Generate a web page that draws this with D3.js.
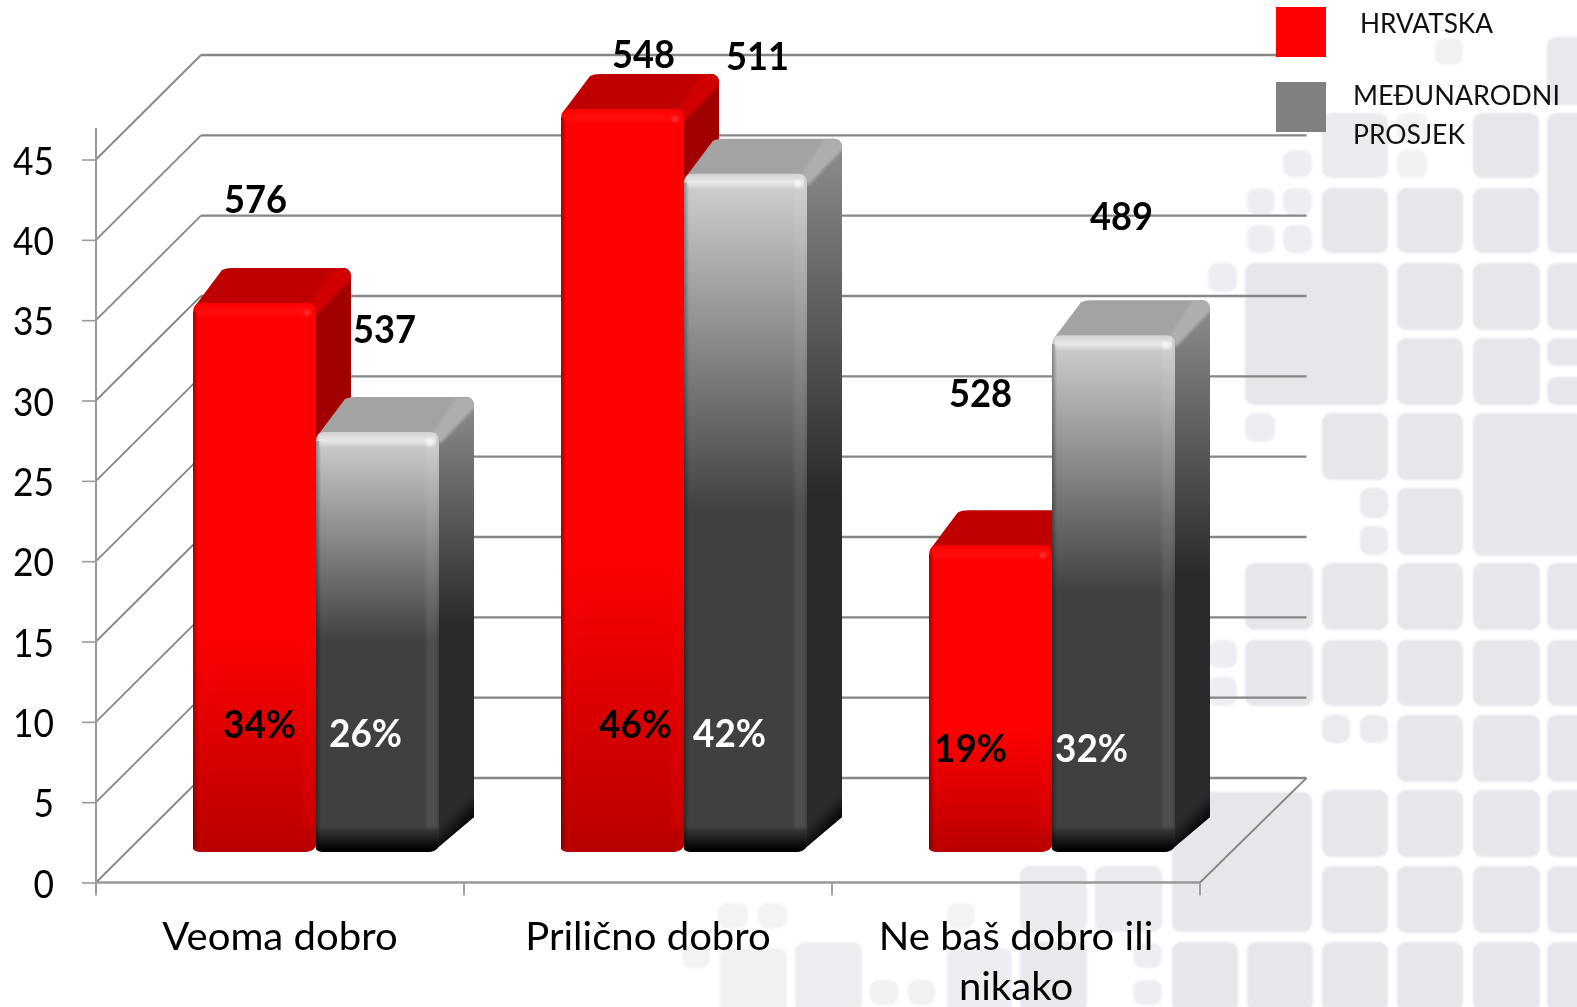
<!DOCTYPE html>
<html><head><meta charset="utf-8">
<script src="https://cdn.jsdelivr.net/npm/d3@7"></script>
<style>html,body{margin:0;padding:0;background:#fff;overflow:hidden}svg{display:block}text{font-family:Lato,"Open Sans",sans-serif}</style>
</head><body><svg id="c" width="1577" height="1007"></svg>
<script>
// ---- data ----
const categories = ["Veoma dobro", "Prilično dobro", "Ne baš dobro ili nikako"];
const seriesNames = ["HRVATSKA", "MEĐUNARODNI PROSJEK"];
const hrvatska = [34, 46, 19];
const prosjek = [26, 42, 32];
const scoresHrvatska = [576, 548, 528];
const scoresProsjek = [537, 511, 489];
const yTicks = [0, 5, 10, 15, 20, 25, 30, 35, 40, 45];

// ---- layout ----
const W = 1577, H = 1007;
const depth = 35, wallDx = 105, wallDy = 104.5;
const svg = d3.select("#c");
const defs = svg.append("defs");
const yFront = d3.scaleLinear().domain([0, 45]).range([882.5, 159.5]);
const yWall = v => yFront(v) - wallDy;
const yBar = d3.scaleLinear().domain([0, 45]).range([852, 852 - 45 * 16.15]);
const xBand = d3.scaleBand().domain(categories).range([96, 1200]);
const xInner = d3.scaleBand().domain([0, 1]).range([97, 343]);
const scoreOffset = [[[1, -90], [7, -89]], [[21, -41], [12, -104]], [[-10, -138], [8, -105]]];
const pctCenterY = [[724, 733], [724, 733], [748, 748]];
const pctDx = [[5, -12], [13, -16], [-20, -22]];

// background tiles: decorative page texture [x, y, w, h, opacity]
const tiles = [
 [1547,37,40,68,.9],[1435,38,28,27,.55],[1397,113,30,30,.55],[1397,150,30,28,.55],[1283,150,29,27,.7],
 [1322,113,66,65,.85],[1473,113,66,65,1],[1547,113,40,140,1],[1247,188,28,27,.7],[1283,188,29,27,.7],
 [1247,225,28,28,.7],[1283,225,29,28,.7],[1322,188,66,65,1],[1397,188,66,65,1],[1473,188,66,65,1],
 [1208,263,29,29,.7],[1245,263,143,142,1],[1397,263,66,67,1],[1473,263,67,67,1],[1547,263,40,67,1],
 [1397,338,66,67,1],[1473,338,67,67,1],[1547,338,40,28,1],[1547,377,40,28,1],
 [1245,413,30,29,.7],[1322,413,66,67,1],[1397,413,66,67,1],[1473,413,110,143,1],
 [1360,488,28,30,.85],[1360,526,28,29,.85],[1397,488,66,67,1],
 [1245,563,68,67,1],[1322,563,66,67,1],[1397,563,66,67,1],[1473,563,67,67,1],[1547,563,40,67,1],
 [1208,640,29,28,.7],[1208,677,29,29,.7],[1245,640,68,66,1],[1322,640,66,66,1],[1397,640,66,66,1],[1473,640,67,66,1],[1547,640,40,66,1],
 [1322,715,28,28,.85],[1360,715,28,28,.85],[1397,715,66,67,1],[1473,715,67,67,1],[1547,715,40,67,1],
 [1172,792,140,140,1],[1322,790,66,67,1],[1397,790,66,67,1],[1473,790,67,67,1],[1547,790,40,67,1],
 [1322,866,66,67,1],[1397,866,66,67,1],[1473,866,67,67,1],[1547,866,40,67,1],
 [1020,866,67,66,.85],[1095,866,67,66,.85],
 [718,903,30,25,.5],[758,903,29,25,.5],[947,903,28,25,.5],[682,943,28,25,.5],
 [720,948,67,70,.6],[795,942,67,70,.7],[870,980,28,25,.6],[908,980,27,25,.6],[947,948,65,70,.7],
 [1020,942,67,70,.9],[1133,943,29,25,.7],[1133,980,29,25,.7],
 [1172,942,66,70,1],[1247,942,66,70,1],[1322,942,66,70,1],[1397,942,66,70,1],[1473,942,67,70,1],[1547,942,40,70,1]
];
defs.append("filter").attr("id", "soft").append("feGaussianBlur").attr("stdDeviation", 1.3);
defs.append("filter").attr("id", "bev").attr("x", "-30%").attr("y", "-30%").attr("width", "160%").attr("height", "160%").append("feGaussianBlur").attr("stdDeviation", 1.6);
svg.append("g").attr("filter", "url(#soft)").selectAll("rect").data(tiles).join("rect")
  .attr("x", d => d[0]).attr("y", d => d[1]).attr("width", d => d[2]).attr("height", d => d[3])
  .attr("rx", 9).attr("fill", "#e6e7eb").attr("opacity", d => d[4]);

// ---- walls & floor ----
const gridCol = "#868686";
const wall = svg.append("g").attr("fill", "none").attr("stroke", gridCol);
wall.selectAll("line.g").data(yTicks).join("line").attr("class", "g")
  .attr("x1", 96 + wallDx).attr("x2", 1200 + wallDx + 1.5).attr("y1", yWall).attr("y2", yWall).attr("stroke-width", 2.4);
wall.selectAll("line.d").data(yTicks).join("line").attr("class", "d")
  .attr("x1", 96).attr("x2", 96 + wallDx).attr("y1", d => yFront(d)).attr("y2", yWall).attr("stroke-width", 1.8);
wall.append("line").attr("x1", 1200).attr("x2", 1200 + wallDx + 1.5).attr("y1", yFront(0)).attr("y2", yWall(0)).attr("stroke-width", 1.8);

// ---- axes ----
const yAxis = d3.axisLeft(yFront).tickValues(yTicks).tickSize(14).tickPadding(28);
const gy = svg.append("g").attr("transform", "translate(96,0)").call(yAxis);
gy.select(".domain").remove();
gy.append("line").attr("y1", 128).attr("y2", 895).attr("stroke", "#999").attr("stroke-width", 2);
gy.selectAll(".tick line").attr("stroke", "#999").attr("stroke-width", 1.6);
gy.selectAll("text").attr("font-size", 38).attr("fill", "#000").attr("dy", ".39em")
  .attr("textLength", d => d < 10 ? 20.5 : 41).attr("lengthAdjust", "spacingAndGlyphs");

const xAxis = d3.axisBottom(xBand).tickSize(0);
const gx = svg.append("g").attr("transform", `translate(0,${yFront(0)})`).call(xAxis);
gx.select(".domain").remove();
gx.append("line").attr("x1", 96).attr("x2", 1200).attr("stroke", "#999").attr("stroke-width", 2.4);
gx.selectAll("line.b").data(d3.range(categories.length + 1)).join("line").attr("class", "b")
  .attr("x1", i => 96 + i * xBand.step()).attr("x2", i => 96 + i * xBand.step())
  .attr("y1", 0).attr("y2", 13).attr("stroke", "#999").attr("stroke-width", 1.8);
gx.selectAll(".tick text").attr("font-size", 38).attr("fill", "#000").attr("y", 67.5).attr("dy", 0)
  .each(function (d) {
    const t = d3.select(this), words = d.split(" ");
    t.text(null);
    let line = [], ts = t.append("tspan").attr("x", 0);
    const parts = [ts];
    words.forEach(w => {
      line.push(w); ts.text(line.join(" "));
      if (ts.node().getComputedTextLength() > 300) {
        line.pop(); ts.text(line.join(" ")); line = [w];
        ts = t.append("tspan").attr("x", 0).attr("dy", 50).text(w);
        parts.push(ts);
      }
    });
    parts.forEach(p => {
      const len = p.node().getComputedTextLength();
      p.attr("textLength", len * 1.055).attr("lengthAdjust", "spacingAndGlyphs");
    });
  });

// ---- gradients ----
function lin(id, stops, attrs) {
  const g = defs.append("linearGradient").attr("id", id);
  Object.entries(attrs || { x1: 0, y1: 0, x2: 0, y2: 1 }).forEach(([k, v]) => g.attr(k, v));
  stops.forEach(s => g.append("stop").attr("offset", s[0]).attr("stop-color", s[1]).attr("stop-opacity", s[2] === undefined ? 1 : s[2]));
}
lin("redFront", [[0, "#ff0000"], [.6, "#ff0000"], [1, "#b80000"]]);
lin("grayFront", [[0, "#d2d2d2"], [.5, "#404040"], [1, "#404040"]]);
lin("graySide", [[0, "#8e8e8e"], [.5, "#2a2a2a"], [1, "#2a2a2a"]]);
lin("toBlack", [[0, "#000", 0], [.92, "#000", 1], [1, "#000", 1]]);
lin("leftShade", [[0, "#000", .35], [1, "#000", 0]], { x1: 0, y1: 0, x2: 1, y2: 0 });
lin("topLight", [[0, "#fff", .1], [.5, "#fff", 1], [1, "#fff", 0]]);

// ---- bars ----
const styles = [
  { front: "url(#redFront)", side: "#a00000", top: "#bf0000", bevel: "#d00000", strip: "#ff0000", stripO: .2, topO: .05, hi: "#ff4040", hiR: 3, bottom: false },
  { front: "url(#grayFront)", side: "url(#graySide)", top: "#a3a3a3", bevel: "#aeaeae", strip: "#ffffff", stripO: .07, topO: .55, hi: "#ffffff", hiR: 3.5, bottom: true }
];
const rows = [hrvatska, prosjek];
const barsG = svg.append("g");
categories.forEach((cat, c) => {
  rows.forEach((vals, s) => {
    const v = vals[c], st = styles[s];
    const x0 = xBand(cat) + xInner(s), x1 = x0 + xInner.bandwidth();
    const top = yBar(v), bot = yBar(0), d = depth, r = 9;
    const g = barsG.append("g");
    // right side
    g.append("path").attr("fill", st.side)
      .attr("d", `M${x1 - 1},${top + 2} L${x1 + d - r},${top - d} Q${x1 + d},${top - d} ${x1 + d},${top - d + r} L${x1 + d},${bot - d} L${x1 - 4},${bot - 2} Q${x1 - 10},${bot} ${x1 - 14},${bot} Z`);
    if (st.bottom) {
      const id = `sb${c}${s}`;
      lin(id, [[0, "#000", 0], [1, "#000", 1]], { gradientUnits: "userSpaceOnUse", x1: x1 + 2, y1: bot - 26, x2: x1 + 16, y2: bot - 12 });
      g.append("path").attr("fill", `url(#${id})`)
        .attr("d", `M${x1},${bot - 30} L${x1 + d},${bot - d - 30} L${x1 + d},${bot - d} L${x1 - 4},${bot - 2} Q${x1 - 10},${bot} ${x1 - 14},${bot} Z`);
    }
    // top
    g.append("path").attr("fill", st.top)
      .attr("d", `M${x0 + 2},${top + 3} L${x0 + d - 6},${top - d + 2} Q${x0 + d - 2},${top - d} ${x0 + d + 4},${top - d} L${x1 + d - r},${top - d} Q${x1 + d},${top - d} ${x1 + d},${top - d + r} L${x1},${top + 6} Z`);
    // corner bevel
    const clipId = `cb${c}${s}`;
    defs.append("clipPath").attr("id", clipId).append("path")
      .attr("d", `M${x0},${top + 10} L${x0 + d},${top - d} L${x1 + d - r},${top - d} Q${x1 + d},${top - d} ${x1 + d},${top - d + r} L${x1 + d},${top + 40} L${x1},${top + 40} Z`);
    g.append("g").attr("clip-path", `url(#${clipId})`).append("path").attr("fill", st.bevel).attr("filter", "url(#bev)")
      .attr("d", `M${x1 - 6},${top + 1} L${x1 + d - 17},${top - d} L${x1 + d + 4},${top - d} L${x1 + d + 4},${top - d + 7} L${x1 + 1},${top + 12} Z`);
    // front
    g.append("path").attr("fill", st.front)
      .attr("d", `M${x0},${bot - 3} L${x0},${top + r} Q${x0},${top} ${x0 + r},${top} L${x1 - r},${top} Q${x1},${top} ${x1},${top + r} L${x1},${bot - 8} Q${x1 - 1},${bot} ${x1 - 12},${bot} L${x0 + 8},${bot} Q${x0 + 2},${bot} ${x0},${bot - 3} Z`);
    // lower black band
    if (st.bottom) g.append("path").attr("fill", "url(#toBlack)")
      .attr("d", `M${x0},${bot - 26} H${x1} V${bot - 8} Q${x1 - 1},${bot} ${x1 - 12},${bot} L${x0 + 8},${bot} Q${x0 + 2},${bot} ${x0},${bot - 3} Z`);
    // bevel strips on the front face
    g.append("rect").attr("x", x0).attr("y", top + 9).attr("width", 5).attr("height", bot - top - 12).attr("fill", "url(#leftShade)");
    g.append("rect").attr("x", x1 - 13).attr("y", top + 8).attr("width", 11).attr("height", bot - top - 32).attr("fill", st.strip).attr("opacity", st.stripO).attr("filter", "url(#bev)");
    g.append("rect").attr("x", x0 + 3).attr("y", top + 1).attr("width", x1 - x0 - 6).attr("height", 15).attr("fill", "url(#topLight)").attr("opacity", st.topO);
    g.append("circle").attr("cx", x1 - 9).attr("cy", top + 10).attr("r", st.hiR).attr("fill", st.hi).attr("opacity", .75).attr("filter", "url(#bev)");
  });
});

// ---- value labels ----
const labelG = svg.append("g").attr("font-weight", 700).attr("font-size", 38).attr("text-anchor", "middle");
[scoresHrvatska, scoresProsjek].forEach((vals, s) => {
  vals.forEach((v, c) => {
    const cx = xBand(categories[c]) + xInner(s) + xInner.bandwidth() / 2;
    labelG.append("text").attr("x", cx + scoreOffset[c][s][0]).attr("y", yBar(rows[s][c]) + scoreOffset[c][s][1]).attr("fill", "#000")
      .attr("textLength", 63).attr("lengthAdjust", "spacingAndGlyphs").text(v);
    labelG.append("text").attr("x", cx + pctDx[c][s]).attr("y", pctCenterY[c][s] + 13.5).attr("fill", s ? "#fff" : "#000")
      .attr("textLength", 73).attr("lengthAdjust", "spacingAndGlyphs").text(rows[s][c] + "%");
  });
});

// ---- legend ----
const legendCols = ["#ff0000", "#808080"];
const lg = svg.append("g");
lg.selectAll("rect").data(seriesNames).join("rect").attr("x", 1276).attr("width", 50).attr("height", 50)
  .attr("y", (d, i) => 7 + i * 75).attr("fill", (d, i) => legendCols[i]);
const legendLines = [[seriesNames[0]], ["MEĐUNARODNI", "PROSJEK"]];
const lt = lg.append("g").attr("font-size", 27).attr("fill", "#111");
lt.append("text").attr("x", 1360).attr("y", 33).attr("textLength", 133).attr("lengthAdjust", "spacingAndGlyphs").text(legendLines[0][0]);
lt.append("text").attr("x", 1353).attr("y", 105).attr("textLength", 207).attr("lengthAdjust", "spacingAndGlyphs").text(legendLines[1][0]);
lt.append("text").attr("x", 1353).attr("y", 144).attr("textLength", 112).attr("lengthAdjust", "spacingAndGlyphs").text(legendLines[1][1]);
</script></body></html>
